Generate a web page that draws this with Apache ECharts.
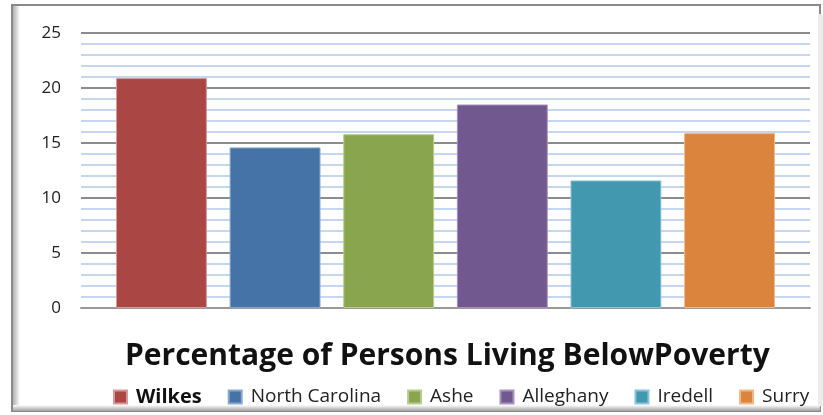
<!DOCTYPE html>
<html>
<head>
<meta charset="utf-8">
<script src="https://cdn.jsdelivr.net/npm/echarts@6/dist/echarts.min.js"></script>
<style>
  html, body { margin: 0; padding: 0; background: #fff; }
  #chart { width: 823px; height: 415px; }
</style>
</head>
<body>
<div id="chart"></div>
<script>
// data
var counties = ['Wilkes', 'North Carolina', 'Ashe', 'Alleghany', 'Iredell', 'Surry'];
var povertyPct = [20.9, 14.6, 15.8, 18.5, 11.6, 15.9];
var barColors = ['#aa4643', '#4572a7', '#89a54e', '#71588f', '#4198af', '#db843d'];
var barEdges = ['#d69a98', '#8aa8cc', '#b8cc92', '#a592bd', '#8cc6d6', '#efb888'];
var chartTitle = 'Percentage of Persons Living BelowPoverty';

var chart = echarts.init(document.getElementById('chart'));

var seriesList = counties.map(function (name, i) {
    return {
        name: name,
        type: 'bar',
        data: [povertyPct[i]],
        barGap: '25%',
        barCategoryGap: '9.6%',
        itemStyle: {
            color: barColors[i],
            borderColor: barEdges[i],
            borderWidth: 1
        }
    };
});

var legendData = counties.map(function (name, i) {
    var item = { name: name };
    if (i === 0) {
        item.textStyle = { fontWeight: 'bold', fontSize: 20, color: '#111' };
    }
    return item;
});

var option = {
    animation: false,
    backgroundColor: '#fff',
    title: {
        text: chartTitle,
        left: 120,
        top: 336,
        textStyle: {
            fontFamily: 'Open Sans',
            fontWeight: 'bold',
            fontSize: 30,
            color: '#111'
        }
    },
    legend: {
        data: legendData,
        left: 108,
        top: 382,
        icon: 'rect',
        itemWidth: 13,
        itemHeight: 13,
        itemGap: 26,
        textStyle: { fontFamily: 'Open Sans', fontSize: 19, color: '#222', padding: [0, 0, 0, 4] }
    },
    grid: { left: 81, right: 13, top: 33, bottom: 107 },
    xAxis: {
        type: 'category',
        data: [''],
        axisLine: { show: true, lineStyle: { color: '#999', width: 2 } },
        axisTick: { show: false },
        axisLabel: { show: false }
    },
    yAxis: {
        type: 'value',
        min: 0,
        max: 25,
        interval: 5,
        axisLine: { show: false },
        axisTick: { show: false },
        axisLabel: {
            fontFamily: 'Open Sans',
            fontSize: 17,
            color: '#222',
            margin: 20
        },
        splitLine: { lineStyle: { color: '#8c8c8c', width: 2 } },
        minorTick: { show: false, splitNumber: 5 },
        minorSplitLine: { show: true, lineStyle: { color: '#c6d6ef', width: 2 } }
    },
    graphic: [
        // frame round the chart
        {
            type: 'rect',
            shape: { x: 12, y: 5, width: 808, height: 406 },
            style: { fill: 'none', stroke: '#8a8a8a', lineWidth: 2 },
            z: -1
        },
        {
            type: 'rect',
            shape: { x: 13, y: 6, width: 7, height: 404 },
            style: {
                fill: new echarts.graphic.LinearGradient(0, 0, 1, 0, [
                    { offset: 0, color: '#b0b0b0' },
                    { offset: 1, color: '#ffffff' }
                ])
            },
            z: -1
        },
        {
            type: 'rect',
            shape: { x: 13, y: 405, width: 807, height: 6 },
            style: {
                fill: new echarts.graphic.LinearGradient(0, 0, 0, 1, [
                    { offset: 0, color: '#ffffff' },
                    { offset: 1, color: '#a0a0a0' }
                ])
            },
            z: -1
        },
        {
            type: 'rect',
            shape: { x: 818, y: 14, width: 5, height: 392 },
            style: { fill: '#ececec' },
            z: -1
        }
    ],
    series: seriesList
};

chart.setOption(option);
</script>
</body>
</html>
